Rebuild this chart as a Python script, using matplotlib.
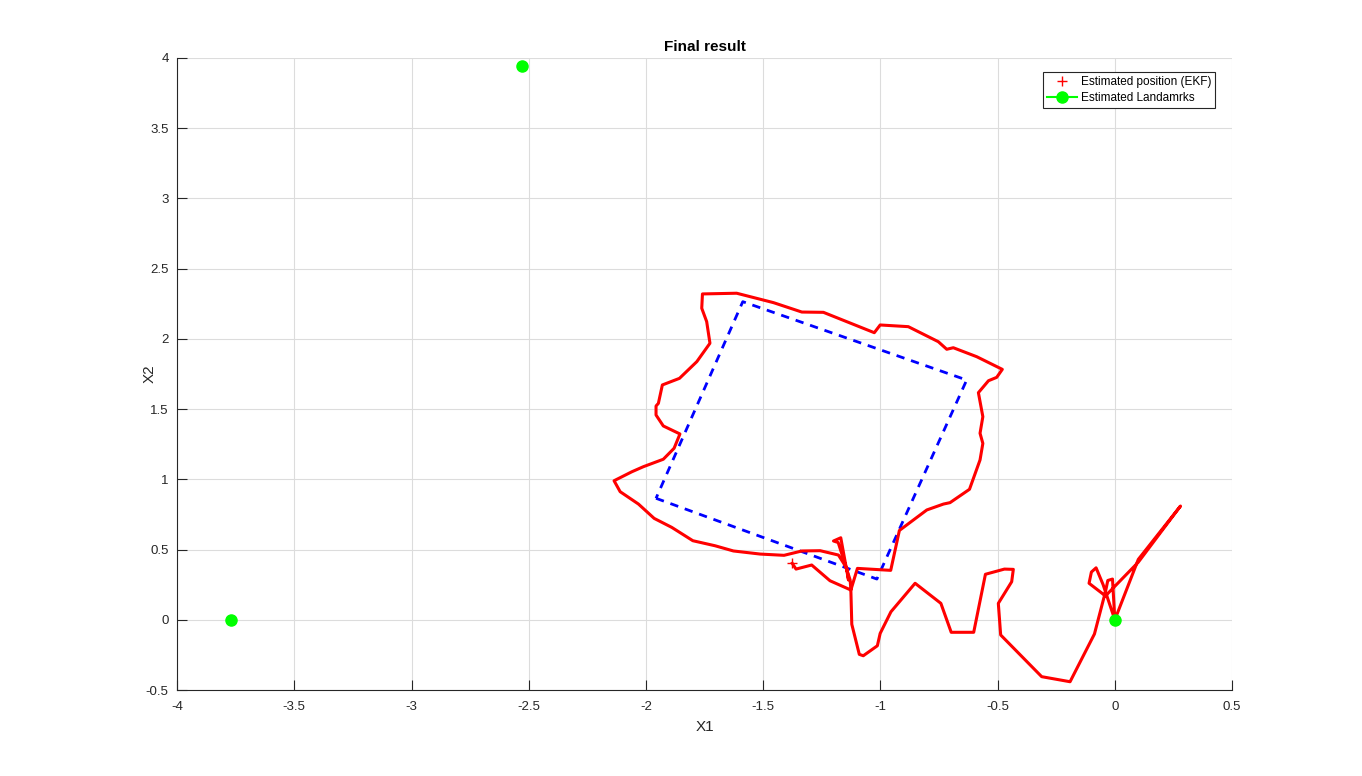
import matplotlib.pyplot as plt

# EKF trajectory (estimated path)
path_x = [0.00, 0.10, 0.28, 0.10, -0.04, -0.11, -0.10, -0.08, -0.05, 0.00,
          -0.01, -0.03, -0.04, -0.087, -0.191, -0.312, -0.487, -0.497, -0.440,
          -0.433, -0.471, -0.552, -0.602, -0.698, -0.742, -0.852, -0.955,
          -1.001, -1.013, -1.073, -1.090, -1.122, -1.126,
          -1.098, -0.956, -0.919, -0.802, -0.731, -0.703, -0.620, -0.575,
          -0.563, -0.575, -0.563, -0.582, -0.539, -0.504, -0.480, -0.589,
          -0.689, -0.717, -0.753, -0.881, -1.001, -1.026, -1.243, -1.335,
          -1.456, -1.613, -1.759, -1.762, -1.741, -1.727, -1.783, -1.857,
          -1.930, -1.947, -1.957, -1.957, -1.926, -1.855, -1.880, -1.926,
          -2.011, -2.060, -2.136, -2.110, -2.032, -1.965, -1.890, -1.800,
          -1.705, -1.627, -1.513, -1.411, -1.335, -1.257, -1.179, -1.143,
          -1.136, -1.169, -1.200, -1.180, -1.129, -1.126,
          -1.215, -1.293, -1.360, -1.376]
path_y = [0.00, 0.43, 0.81, 0.41, 0.17, 0.26, 0.34, 0.37, 0.25, 0.00,
          0.29, 0.28, 0.20, -0.101, -0.441, -0.405, -0.108, 0.117, 0.271,
          0.359, 0.361, 0.324, -0.089, -0.089, 0.117, 0.260, 0.057,
          -0.097, -0.185, -0.256, -0.246, -0.032, 0.212,
          0.366, 0.352, 0.636, 0.782, 0.824, 0.834, 0.929, 1.138,
          1.256, 1.328, 1.446, 1.617, 1.702, 1.726, 1.783, 1.873,
          1.937, 1.926, 1.980, 2.087, 2.099, 2.044, 2.189, 2.191,
          2.258, 2.325, 2.320, 2.218, 2.123, 1.969, 1.838, 1.719,
          1.672, 1.541, 1.522, 1.458, 1.380, 1.323, 1.221, 1.143,
          1.090, 1.054, 0.990, 0.912, 0.824, 0.722, 0.658, 0.563,
          0.527, 0.490, 0.468, 0.459, 0.490, 0.492, 0.461, 0.366,
          0.283, 0.584, 0.561, 0.550, 0.283, 0.212,
          0.278, 0.390, 0.361, 0.402]

# reference square (dashed)
square_x = [-1.957, -1.015, -0.632, -1.587, -1.957]
square_y = [0.865, 0.290, 1.707, 2.265, 0.865]

# current EKF estimate
est_x = -1.376
est_y = 0.402

# estimated landmarks
lm_x = [-3.77, -2.528, 0.0]
lm_y = [0.0, 3.943, 0.0]

xticks = [-4, -3.5, -3, -2.5, -2, -1.5, -1, -0.5, 0, 0.5]
yticks = [-0.5, 0, 0.5, 1, 1.5, 2, 2.5, 3, 3.5, 4]

plt.rcParams['font.family'] = ['Liberation Sans', 'DejaVu Sans']

fig = plt.figure(figsize=(13.62, 7.76), dpi=100)
ax = fig.add_axes([0.13, 0.1108, 0.7746, 0.8145])

ax.plot(path_x, path_y, color='red', linewidth=2.2, zorder=3)
ax.plot(square_x, square_y, color='blue', linestyle=(0, (3, 2.5)),
        linewidth=2.0, zorder=2)
ax.plot(est_x, est_y, '+', color='red', markersize=7, markeredgewidth=1,
        linestyle='none', label='Estimated position (EKF)', zorder=4)

for i in range(len(lm_x)):
    ax.plot(lm_x[i], lm_y[i], '-o', color=(0, 1, 0), markersize=8,
            label='Estimated Landamrks' if i == 0 else None, zorder=5)

ax.set_xlim(-4, 0.5)
ax.set_ylim(-0.5, 4)
ax.set_xticks(xticks)
ax.set_yticks(yticks)
ax.set_xticklabels([f'{t:g}' for t in xticks])
ax.set_yticklabels([f'{t:g}' for t in yticks])

ax.grid(True, color='#dcdcdc', linewidth=0.8)
ax.set_axisbelow(True)
ax.spines['top'].set_visible(False)
ax.spines['right'].set_visible(False)
for s in ['left', 'bottom']:
    ax.spines[s].set_color('#262626')
    ax.spines[s].set_linewidth(0.8)
ax.tick_params(direction='in', length=7, width=0.8, colors='#262626',
               labelsize=9.5)
ax.tick_params(axis='x', pad=8)
ax.tick_params(axis='y', pad=6)

ax.set_xlabel('X1', fontsize=11, color='#262626', labelpad=5)
ax.set_ylabel('X2', fontsize=11, color='#262626', labelpad=-8)
ax.set_title('Final result', fontsize=11, fontweight='bold', color='black', pad=5)

leg = ax.legend(loc='upper right', fontsize=8.5, frameon=True, fancybox=False,
                edgecolor='#262626', framealpha=1, borderpad=0.35,
                labelspacing=0.33, handlelength=2.5, handletextpad=0.3,
                borderaxespad=0, bbox_to_anchor=(0.984, 0.978))
leg.get_frame().set_linewidth(0.8)

plt.savefig('out.png', dpi=100)
